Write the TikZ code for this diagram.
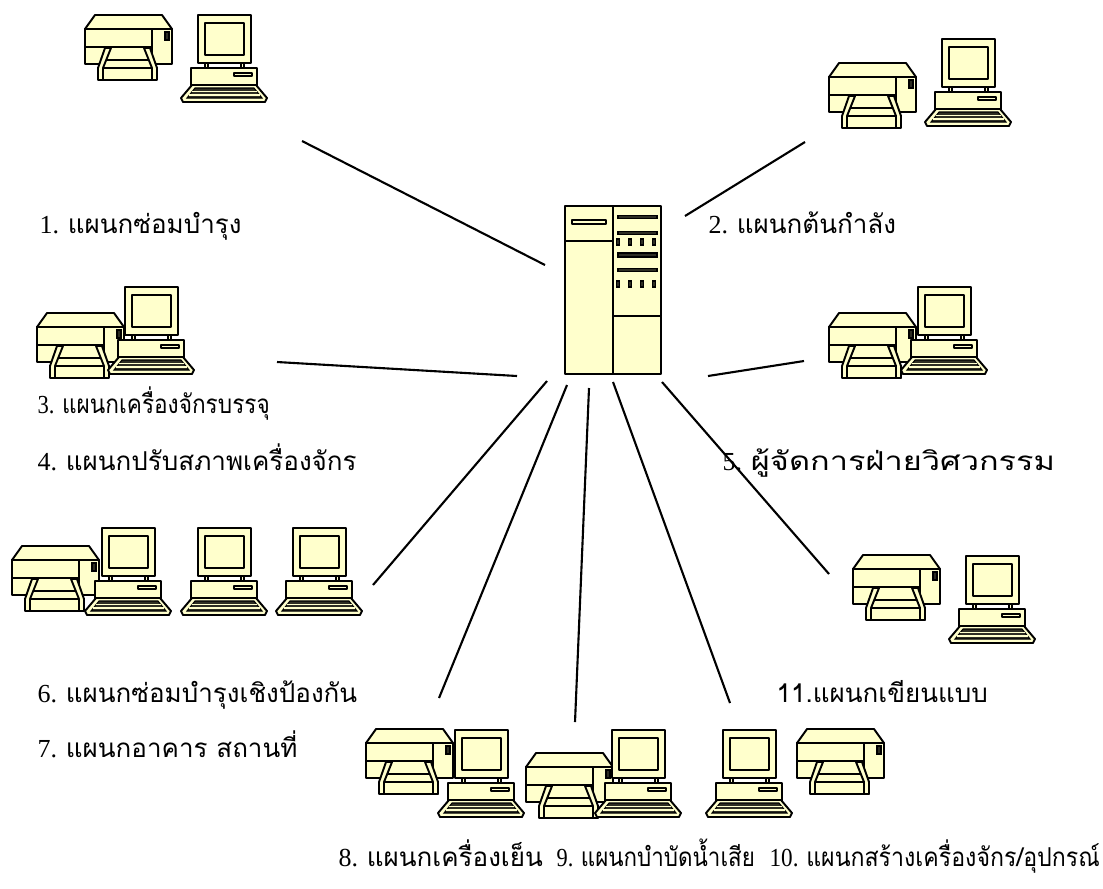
\documentclass[tikz,border=0pt]{standalone}
\usepackage{fontspec}
\setmainfont{Liberation Serif}
\newfontfamily\thaifont[Script=Thai]{Loma}
\usepackage{graphicx}
\usepackage{tikz}
\usetikzlibrary{positioning}
\definecolor{unitFill}{RGB}{255,255,204}
\definecolor{unitDark}{RGB}{45,45,35}

% printer icon, origin = top-left corner of the body
\tikzset{
  printer/.pic={
    \filldraw[part] (0,0) -- (10,-14) -- (77,-14) -- (87,0) -- cycle;
    \filldraw[part] (0,0) rectangle (87,35);
    \draw[part] (0,18) -- (67,18);
    \draw[part] (67,0) -- (67,35);
    \filldraw[slot] (80,3) rectangle (84,11);
    % paper tray
    \filldraw[part] (18,31) rectangle (67,51);
    \draw[part] (18,39) -- (67,39);
    \filldraw[part] (20,19) -- (26,19) -- (18,39) -- (18,51)
                    -- (13,51) -- (13,39) -- cycle;
    \filldraw[part] (65,19) -- (59,19) -- (67,39) -- (67,51)
                    -- (72,51) -- (72,39) -- cycle;
  },
  % desktop computer icon, origin = top-left corner of the monitor
  computer/.pic={
    \filldraw[part] (0,0) rectangle (53,48);
    \filldraw[part] (7,8) rectangle (46,40);
    \filldraw[part] (7,48) rectangle (10,53);
    \filldraw[part] (43,48) rectangle (46,53);
    \filldraw[part] (-7,53) rectangle (59,72);
    \filldraw[part] (36,58) rectangle (54,61);
    % keyboard
    \filldraw[part] (-6,70) -- (58,70) -- (69,83) -- (67,87)
                    -- (-15,87) -- (-17,83) -- cycle;
    \fill[slot] (-3,73) -- (56,73) -- (64,83) -- (-11,83) -- cycle;
    \draw[unitFill, line width=0.4pt] (-6,76.5) -- (59,76.5);
    \draw[unitFill, line width=0.4pt] (-9,80) -- (62,80);
  }
}

\begin{document}
\begin{tikzpicture}[
    x=0.1mm, y=-0.1mm,
    part/.style={draw=black, fill=unitFill, line width=0.55pt, line join=round},
    slot/.style={draw=black, fill=unitDark, line width=0.3pt},
    link/.style={draw=black, line width=0.6pt},
    dept/.style={anchor=base west, inner sep=0pt,
                 font=\fontsize{7.4}{9}\selectfont},
    narrow/.style={xscale=#1, transform shape}
]
\useasboundingbox (0,0) rectangle (1103,888);

% ── Server cabinet ───────────────────────────────────────────
\filldraw[part] (565,206) rectangle (661,374);
\draw[part] (613,206) -- (613,374);
\draw[part] (565,241) -- (613,241);
\draw[part] (572,220) rectangle (606,224);
\draw[part] (613,316) -- (661,316);
\foreach \y in {217,233,270}
    \filldraw[slot] (618,\y-1.5) rectangle (657,\y+1.5);
\filldraw[slot] (618,253) rectangle (657,257);
\foreach \y in {242,284}
    \foreach \x in {618,630,642,654}
        \filldraw[slot] (\x-1.5,\y-3) rectangle (\x+1.5,\y+3);

% ── Connector ends at the server ─────────────────────────────
\coordinate (s1)  at (545,265);
\coordinate (s2)  at (685,216);
\coordinate (s3)  at (517,376);
\coordinate (s5)  at (708,376);
\coordinate (s6)  at (547,381);
\coordinate (s8)  at (567,385);
\coordinate (s9)  at (589,388);
\coordinate (s10) at (613,382);
\coordinate (s11) at (662,382);

% ── Workstation groups ───────────────────────────────────────
\pic at (85,29)   {printer};   \pic at (198,15)  {computer};
\pic at (829,77)  {printer};   \pic at (942,39)  {computer};
\pic at (37,327)  {printer};   \pic at (125,287) {computer};
\pic at (829,327) {printer};   \pic at (918,287) {computer};
\pic at (12,560)  {printer};
\foreach \x in {102,198,293}
    \pic at (\x,528) {computer};
\pic at (853,569) {printer};   \pic at (966,556) {computer};
\pic at (366,743) {printer};   \pic at (455,730) {computer};
\pic at (526,767) {printer};   \pic at (612,730) {computer};
\pic at (723,730) {computer};  \pic at (797,743) {printer};

\coordinate (g1)  at (302,141);
\coordinate (g2)  at (805,142);
\coordinate (g3)  at (277,362);
\coordinate (g5)  at (804,361);
\coordinate (g6)  at (373,585);
\coordinate (g8)  at (439,698);
\coordinate (g9)  at (575,722);
\coordinate (g10) at (730,703);
\coordinate (g11) at (829,574);

% ── Links ────────────────────────────────────────────────────
\foreach \n in {1,2,3,5,6,8,9,10,11}
    \draw[link] (s\n) -- (g\n);

% ── Department labels ────────────────────────────────────────
\node[dept] (d1)  at (39,233)  {1. {\thaifont แผนกซ่อมบำรุง}};
\node[dept] (d2)  at (708,233) {2. {\thaifont แผนกต้นกำลัง}};
\node[dept, narrow=0.87] (d3) at (37,413) {3. {\thaifont แผนกเครื่องจักรบรรจุ}};
\node[dept] (d4)  at (37,470)  {4. {\thaifont แผนกปรับสภาพเครื่องจักร}};
\node[dept] (d5)  at (722,470) {5. \scalebox{1.25}[1]{\thaifont ผู้จัดการฝ่ายวิศวกรรม}};
\node[dept] (d6)  at (37,702)  {6. {\thaifont แผนกซ่อมบำรุงเชิงป้องกัน}};
\node[dept] (d7)  at (37,757)  {7. {\thaifont แผนกอาคาร สถานที่}};
\node[dept] (d11) at (776,702) {\thaifont 11.แผนกเขียนแบบ};
\node[dept] (d8)  at (338,866) {8. {\thaifont แผนกเครื่องเย็น}};
\node[dept, narrow=0.86] (d9)  at (556,866) {9. {\thaifont แผนกบำบัดน้ำเสีย}};
\node[dept, narrow=0.89] (d10) at (769,866) {10. {\thaifont แผนกสร้างเครื่องจักร/อุปกรณ์}};
\end{tikzpicture}
\end{document}
